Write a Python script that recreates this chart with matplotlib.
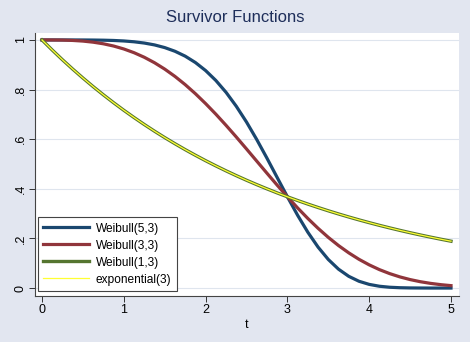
import matplotlib
matplotlib.use("Agg")
import matplotlib.pyplot as plt

# values, t in steps of 0.125
t = [0, 0.125, 0.25, 0.375, 0.5, 0.625, 0.75, 0.875, 1, 1.125, 1.25, 1.375, 1.5, 1.625,
     1.75, 1.875, 2, 2.125, 2.25, 2.375, 2.5, 2.625, 2.75, 2.875, 3, 3.125, 3.25, 3.375,
     3.5, 3.625, 3.75, 3.875, 4, 4.125, 4.25, 4.375, 4.5, 4.625, 4.75, 4.875, 5]
weib53 = [1.0, 1.0, 1.0, 1.0, 0.9999, 0.9996, 0.999, 0.9979, 0.9959, 0.9926, 0.9875, 0.98,
          0.9692, 0.9544, 0.9347, 0.909, 0.8766, 0.8367, 0.7888, 0.7327, 0.6691, 0.5987,
          0.5235, 0.4456, 0.3679, 0.2933, 0.2249, 0.165, 0.1152, 0.0761, 0.0473, 0.0274,
          0.0148, 0.0073, 0.0033, 0.0014, 0.0005, 0.0002, 0.0, 0.0, 0.0]
weib33 = [1.0, 0.9999, 0.9994, 0.998, 0.9954, 0.991, 0.9845, 0.9755, 0.9636, 0.9486, 0.9302,
          0.9082, 0.8825, 0.8531, 0.82, 0.7834, 0.7435, 0.7009, 0.6558, 0.6089, 0.5606,
          0.5117, 0.4629, 0.4147, 0.3679, 0.3229, 0.2804, 0.2408, 0.2043, 0.1713, 0.1419,
          0.1159, 0.0935, 0.0743, 0.0583, 0.045, 0.0342, 0.0256, 0.0189, 0.0137, 0.0098]
weib13 = [1.0, 0.9592, 0.92, 0.8825, 0.8465, 0.8119, 0.7788, 0.747, 0.7165, 0.6873, 0.6592,
          0.6323, 0.6065, 0.5818, 0.558, 0.5353, 0.5134, 0.4925, 0.4724, 0.4531, 0.4346,
          0.4169, 0.3999, 0.3835, 0.3679, 0.3529, 0.3385, 0.3247, 0.3114, 0.2987, 0.2865,
          0.2748, 0.2636, 0.2528, 0.2425, 0.2326, 0.2231, 0.214, 0.2053, 0.1969, 0.1889]
expo3 = [1.0, 0.9592, 0.92, 0.8825, 0.8465, 0.8119, 0.7788, 0.747, 0.7165, 0.6873, 0.6592,
         0.6323, 0.6065, 0.5818, 0.558, 0.5353, 0.5134, 0.4925, 0.4724, 0.4531, 0.4346,
         0.4169, 0.3999, 0.3835, 0.3679, 0.3529, 0.3385, 0.3247, 0.3114, 0.2987, 0.2865,
         0.2748, 0.2636, 0.2528, 0.2425, 0.2326, 0.2231, 0.214, 0.2053, 0.1969, 0.1889]

xticks = [0, 1, 2, 3, 4, 5]
yticks = [0, 0.2, 0.4, 0.6, 0.8, 1]
ylabels = ['0', '.2', '.4', '.6', '.8', '1']

plt.rcParams['font.family'] = ['Liberation Sans', 'DejaVu Sans']

bg = '#e2e6f0'
fig = plt.figure(figsize=(4.7, 3.42), dpi=100, facecolor=bg)
ax = fig.add_axes([35/470, 1-296/342, 424/470, 263/342])
ax.set_facecolor('white')

ax.plot(t, weib53, color='#1a476f', lw=2.3, label='Weibull(5,3)')
ax.plot(t, weib33, color='#90353b', lw=2.3, label='Weibull(3,3)')
ax.plot(t, weib13, color='#55752f', lw=2.4, label='Weibull(1,3)')
ax.plot(t, expo3, color='#ffff33', lw=0.9, label='exponential(3)')

ax.set_xlim(-0.086, 5.098)
ax.set_ylim(-0.032, 1.028)
ax.set_xticks(xticks)
ax.set_yticks(yticks)
ax.set_yticklabels(ylabels, rotation=90, va='center')
ax.grid(axis='y', color='#dfe5ee', lw=0.8)
ax.set_axisbelow(True)
ax.tick_params(labelsize=9, length=4, width=0.7, colors='#333333', labelcolor='black', pad=2)

for s in ['top', 'right']:
    ax.spines[s].set_visible(False)
for s in ['left', 'bottom']:
    ax.spines[s].set_color('#444444')
    ax.spines[s].set_linewidth(0.8)

ax.set_xlabel('t', fontsize=9, labelpad=2)
fig.text(0.5, 1-18/342, 'Survivor Functions', ha='center', va='center',
         fontsize=12, color='#1e2e5a')

leg = ax.legend(loc='lower left', bbox_to_anchor=(0.007, 0.019), borderaxespad=0,
                fontsize=8.6, handlelength=3.8, fancybox=False, framealpha=1,
                edgecolor='#444444', labelspacing=0.42, borderpad=0.45, handletextpad=0.6)
leg.get_frame().set_linewidth(0.8)

fig.savefig('out.png', dpi=100, facecolor=bg)
